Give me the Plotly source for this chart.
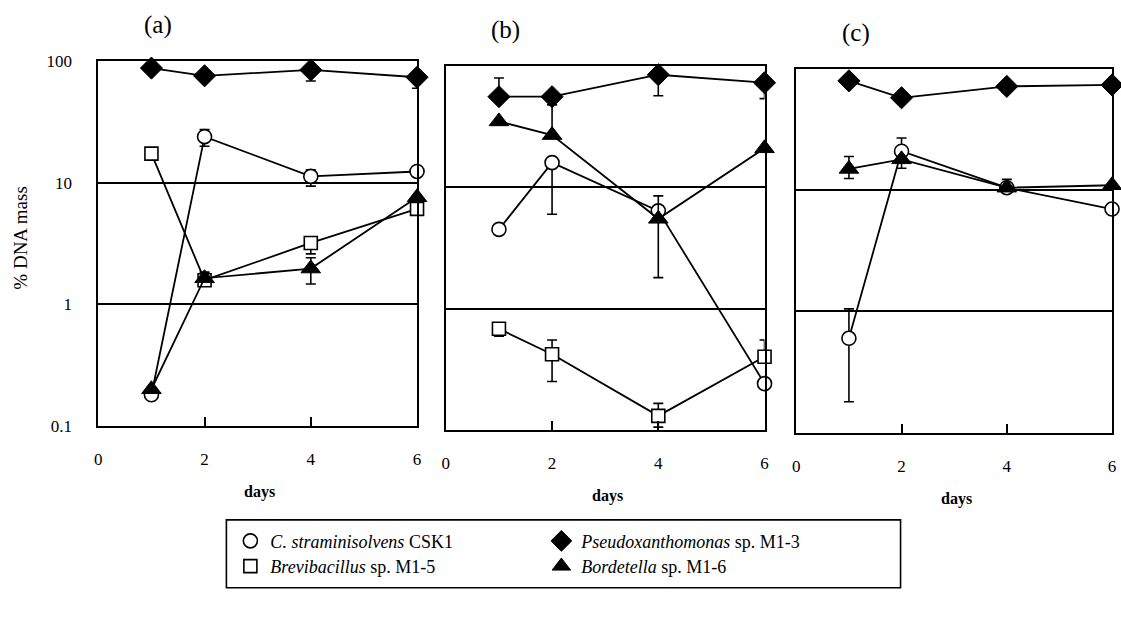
import plotly.graph_objects as go

days = [1, 2, 4, 6]
tick_days = [0, 2, 4, 6]
y_ticks = [0.1, 1, 10, 100]
y_tick_text = ["0.1", "1", "10", "100"]
panel_labels = ["(a)", "(b)", "(c)"]

species = ["circle", "square", "diamond", "triangle"]
legend_names = {
    "circle": "<i>C. straminisolvens</i> CSK1",
    "diamond": "<i>Pseudoxanthomonas</i> sp. M1-3",
    "square": "<i>Brevibacillus</i> sp. M1-5",
    "triangle": "<i>Bordetella</i> sp. M1-6",
}

# Panel (a)
a_circle = [0.18, 24, 11.3, 12.4]
a_circle_up = [0, 3.5, 1.5, 0]
a_circle_dn = [0, 4, 1.9, 0]
a_square = [17.4, 1.58, 3.2, 6.1]
a_square_up = [1.5, 0, 0, 0]
a_square_dn = [0, 0, 0.6, 0]
a_diamond = [88, 76, 85, 74]
a_diamond_up = [8, 0, 0, 0]
a_diamond_dn = [8, 0, 16, 14]
a_triangle = [0.2, 1.64, 1.97, 7.6]
a_triangle_up = [0, 0.2, 0.45, 0]
a_triangle_dn = [0, 0, 0.5, 0]

# Panel (b)
b_circle = [4.5, 16, 6.4, 0.24]
b_circle_up = [0, 0, 0, 0]
b_circle_dn = [0, 10, 0, 0]
b_square = [0.68, 0.42, 0.13, 0.4]
b_square_up = [0, 0.13, 0.035, 0.15]
b_square_dn = [0.09, 0.17, 0.025, 0]
b_diamond = [56, 56, 85, 73]
b_diamond_up = [24, 0, 0, 0]
b_diamond_dn = [0, 8, 28, 19]
b_triangle = [35, 27, 5.5, 21]
b_triangle_up = [0, 21, 3, 0]
b_triangle_dn = [0, 0, 3.7, 0]

# Panel (c)
c_circle = [0.6, 21, 10.5, 7]
c_circle_up = [0.45, 6, 0, 0]
c_circle_dn = [0.42, 0, 0, 0]
c_diamond = [80, 58, 72, 74]
c_diamond_up = [6, 0, 0, 0]
c_diamond_dn = [0, 0, 0, 0]
c_triangle = [15, 18, 10.5, 11]
c_triangle_up = [4, 0, 1.8, 0]
c_triangle_dn = [2.5, 2.8, 0, 0]

panels = [
    {"circle": (a_circle, a_circle_up, a_circle_dn),
     "square": (a_square, a_square_up, a_square_dn),
     "diamond": (a_diamond, a_diamond_up, a_diamond_dn),
     "triangle": (a_triangle, a_triangle_up, a_triangle_dn)},
    {"circle": (b_circle, b_circle_up, b_circle_dn),
     "square": (b_square, b_square_up, b_square_dn),
     "diamond": (b_diamond, b_diamond_up, b_diamond_dn),
     "triangle": (b_triangle, b_triangle_up, b_triangle_dn)},
    {"circle": (c_circle, c_circle_up, c_circle_dn),
     "diamond": (c_diamond, c_diamond_up, c_diamond_dn),
     "triangle": (c_triangle, c_triangle_up, c_triangle_dn)},
]

W, H = 1121, 620
# pixel boxes (left, right, top, bottom)
boxes = [(95, 416, 54, 430), (445, 766, 59, 434), (798, 1116, 62, 437)]

marker_style = {
    "circle": dict(symbol="circle", size=14, color="white", line=dict(color="black", width=1.6)),
    "square": dict(symbol="square", size=13, color="white", line=dict(color="black", width=1.6)),
    "diamond": dict(symbol="diamond", size=17, color="black", line=dict(color="black", width=1)),
    "triangle": dict(symbol="triangle-up", size=17, color="black", line=dict(color="black", width=1)),
}

SERIF = "Liberation Serif"
fig = go.Figure()

for i, panel in enumerate(panels):
    xa = "x" if i == 0 else f"x{i+1}"
    ya = "y" if i == 0 else f"y{i+1}"
    for sp in species:
        if sp not in panel:
            continue
        vals, up, dn = panel[sp]
        fig.add_trace(go.Scatter(
            x=days, y=vals, xaxis=xa, yaxis=ya, mode="lines+markers",
            line=dict(color="black", width=1.8),
            marker=marker_style[sp],
            error_y=dict(type="data", symmetric=False, array=up, arrayminus=dn,
                         color="black", thickness=1.6, width=5),
            cliponaxis=False, showlegend=False, hoverinfo="skip",
        ))

# legend-only traces
for sp, lg in [("circle", "legend"), ("diamond", "legend"), ("square", "legend2"), ("triangle", "legend2")]:
    fig.add_trace(go.Scatter(
        x=[None], y=[None], mode="markers", marker=marker_style[sp],
        name=legend_names[sp], legend=lg, showlegend=True,
    ))

layout = dict(
    width=W, height=H, margin=dict(l=0, r=0, t=0, b=0),
    paper_bgcolor="white", plot_bgcolor="white",
    font=dict(family=SERIF, color="black", size=16),
    annotations=[], shapes=[],
)

for i, (l, r, t, b) in enumerate(boxes):
    xk = "xaxis" if i == 0 else f"xaxis{i+1}"
    yk = "yaxis" if i == 0 else f"yaxis{i+1}"
    yref = "y" if i == 0 else f"y{i+1}"
    xref = "x" if i == 0 else f"x{i+1}"
    layout[xk] = dict(
        domain=[l / W, r / W], range=[0, 6], anchor=yref,
        tickvals=tick_days, ticktext=[str(d) for d in tick_days],
        ticks="inside", ticklen=9, tickwidth=1.6, tickcolor="black",
        showline=True, mirror=True, linecolor="black", linewidth=2,
        showgrid=False, zeroline=False, ticklabelstandoff=17,
        tickfont=dict(family=SERIF, size=17, color="black"),
    )
    layout[yk] = dict(
        domain=[1 - b / H, 1 - t / H], type="log", range=[-1, 2], anchor=xref,
        tickvals=y_ticks, ticktext=y_tick_text, ticks="",
        showticklabels=(i == 0), ticklabelstandoff=21,
        showline=True, mirror=True, linecolor="black", linewidth=2,
        showgrid=True, gridcolor="black", gridwidth=1.6, zeroline=False,
        tickfont=dict(family=SERIF, size=17, color="black"),
    )
    layout["annotations"].append(dict(
        text="<b>days</b>", xref="paper", yref="paper",
        x=(l + r) / 2 / W + 0.002, y=1 - (b + 68) / H, showarrow=False,
        font=dict(family=SERIF, size=16), xanchor="center", yanchor="middle",
    ))
    layout["annotations"].append(dict(
        text=panel_labels[i], xref="paper", yref="paper",
        x=(l + 60) / W, y=1 - (t - 37) / H, showarrow=False,
        font=dict(family=SERIF, size=25), xanchor="center", yanchor="middle",
    ))

layout["annotations"].append(dict(
    text="% DNA mass", xref="paper", yref="paper", x=17 / W, y=1 - 236 / H,
    textangle=-90, showarrow=False, font=dict(family=SERIF, size=19),
    xanchor="center", yanchor="middle",
))

layout["shapes"].append(dict(
    type="rect", xref="paper", yref="paper",
    x0=224 / W, x1=903 / W, y0=1 - 597 / H, y1=1 - 527 / H,
    line=dict(color="black", width=1.6), fillcolor="rgba(0,0,0,0)",
))

legend_common = dict(
    orientation="h", xanchor="left", yanchor="middle",
    bgcolor="rgba(0,0,0,0)", borderwidth=0, entrywidth=266, entrywidthmode="pixels",
    font=dict(family=SERIF, size=18, color="black"), itemsizing="trace",
    tracegroupgap=0, itemclick=False, itemdoubleclick=False,
)
layout["legend"] = dict(legend_common, x=228 / W, y=1 - 549 / H)
layout["legend2"] = dict(legend_common, x=228 / W, y=1 - 575 / H)

fig.update_layout(**layout)
fig.write_html("out.html")
